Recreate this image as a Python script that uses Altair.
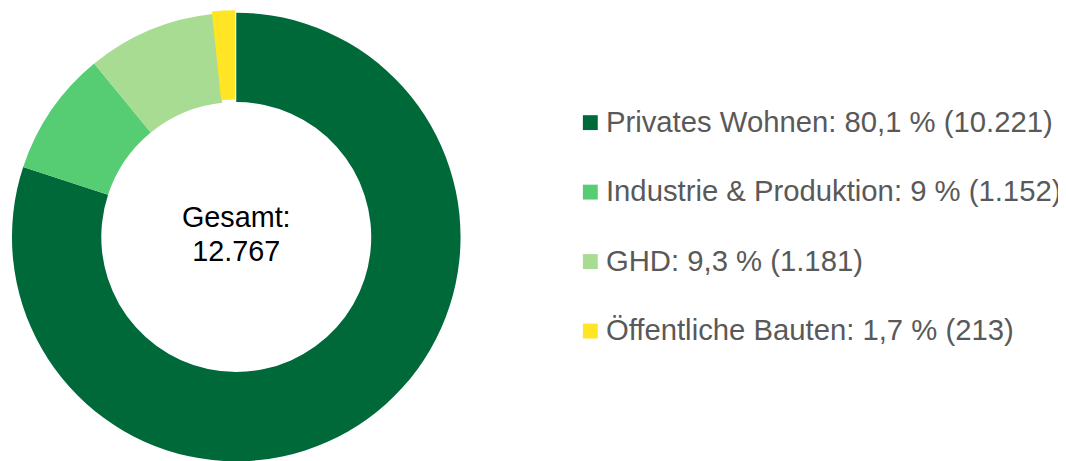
import altair as alt
import pandas as pd

categories = ["Privates Wohnen", "Industrie & Produktion", "GHD", "Öffentliche Bauten"]
values = [10221, 1152, 1181, 213]
percent_labels = ["80,1", "9", "9,3", "1,7"]
colors = ["#00693A", "#56CD72", "#A8DC92", "#FFE523"]

def de_thousands(n):
    return f"{n:,}".replace(",", ".")

labels = [f"{c}: {p} % ({de_thousands(v)})" for c, p, v in zip(categories, percent_labels, values)]
total = sum(values)

df = pd.DataFrame({
    "label": labels,
    "value": values,
    "order": list(range(len(values))),
    "is_small": [False, False, False, True],
})

FONT = "Liberation Sans"
CX, CY = 230, 229

color = alt.Color(
    "label:N",
    scale=alt.Scale(domain=labels, range=colors),
    sort=labels,
    legend=alt.Legend(
        orient="none", legendX=572, legendY=99, title=None,
        symbolType="square", symbolSize=225, symbolStrokeWidth=0, symbolOpacity=1,
        labelFontSize=29.5, labelFont=FONT, labelColor="#595959", labelLimit=0,
        labelOffset=1, rowPadding=39,
    ),
)

base = alt.Chart(df).encode(
    theta=alt.Theta("value:Q", stack=True),
    order=alt.Order("order:Q", sort="ascending"),
    color=color,
)

main = base.mark_arc(innerRadius=136, outerRadius=226).encode(
    x=alt.value(CX), y=alt.value(CY),
    fillOpacity=alt.condition("datum.is_small", alt.value(0), alt.value(1)),
)

exploded = base.mark_arc(innerRadius=136, outerRadius=226).encode(
    x=alt.value(CX - 1), y=alt.value(CY - 2.5),
    fillOpacity=alt.condition("datum.is_small", alt.value(1), alt.value(0)),
)

center_df = pd.DataFrame({"t": [f"Gesamt:\n{de_thousands(total)}"]})
center = alt.Chart(center_df).mark_text(
    font=FONT, fontSize=29, color="#000000", lineBreak="\n", lineHeight=34.5,
    align="center", baseline="middle",
).encode(text="t:N", x=alt.value(CX), y=alt.value(CY - 19))

chart = alt.layer(main, exploded, center).properties(
    width=1058, height=460, autosize="none", padding=0,
).configure_view(stroke=None)

chart.save("out.html", embed_options={"renderer": "svg", "actions": False})
